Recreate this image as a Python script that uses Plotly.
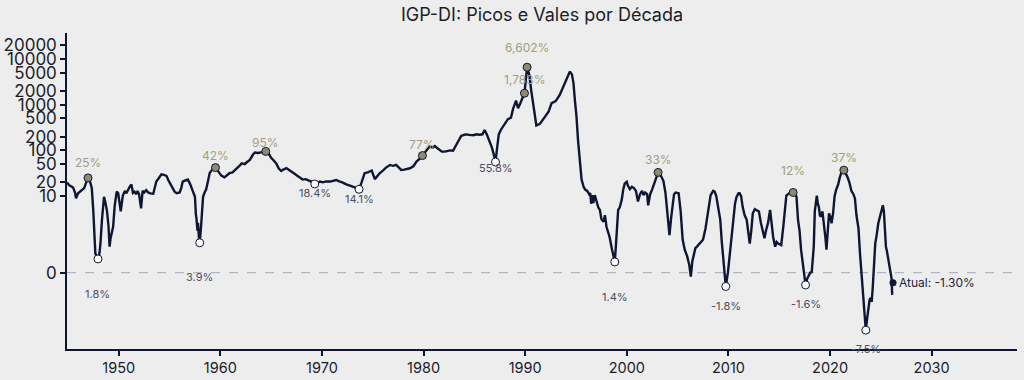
import numpy as np
import plotly.graph_objects as go

# ---------------- data ----------------
years = [1944.92, 1945.1, 1945.3, 1945.5, 1945.7, 1945.8, 1946.0, 1946.2, 1946.4, 1946.6, 1946.8, 1947.0,
         1947.2, 1947.35, 1947.5, 1947.6, 1947.7, 1947.85, 1947.96, 1948.1, 1948.2, 1948.35, 1948.55, 1948.7,
         1948.85, 1949.0, 1949.1, 1949.2, 1949.3, 1949.45, 1949.6, 1949.8, 1949.95, 1950.1, 1950.2, 1950.4,
         1950.6, 1950.75, 1950.9, 1951.1, 1951.25, 1951.4, 1951.55, 1951.7, 1951.85, 1952.0, 1952.2, 1952.35,
         1952.5, 1952.7, 1952.9, 1953.1, 1953.4, 1953.55, 1953.7, 1953.9, 1954.2, 1954.45, 1954.7, 1954.9,
         1955.1, 1955.35, 1955.5, 1955.7, 1956.0, 1956.15, 1956.3, 1956.55, 1956.8, 1957.0, 1957.15, 1957.35,
         1957.5, 1957.6, 1957.65, 1957.75, 1957.8, 1957.9, 1957.97, 1958.1, 1958.2, 1958.3, 1958.45, 1958.6,
         1958.8, 1958.95, 1959.2, 1959.52, 1959.7, 1959.9, 1960.1, 1960.4, 1960.6, 1960.9, 1961.2, 1961.6,
         1961.85, 1962.1, 1962.4, 1962.6, 1962.9, 1963.2, 1963.4, 1963.7, 1964.0, 1964.47, 1964.8, 1965.0,
         1965.25, 1965.5, 1965.75, 1966.0, 1966.2, 1966.5, 1966.8, 1967.0, 1967.3, 1967.5, 1967.8, 1968.1,
         1968.4, 1968.7, 1969.0, 1969.29, 1969.6, 1969.8, 1970.1, 1970.4, 1970.8, 1971.1, 1971.4, 1971.7,
         1972.0, 1972.4, 1972.8, 1973.1, 1973.4, 1973.65, 1973.9, 1974.2, 1974.5, 1974.9, 1975.2, 1975.5,
         1975.7, 1976.0, 1976.3, 1976.7, 1977.0, 1977.3, 1977.6, 1977.8, 1978.1, 1978.4, 1978.65, 1979.0,
         1979.3, 1979.6, 1979.89, 1980.2, 1980.6, 1980.9, 1981.1, 1981.4, 1981.8, 1982.1, 1982.4, 1982.6,
         1982.9, 1983.2, 1983.5, 1983.7, 1984.0, 1984.2, 1984.5, 1984.9, 1985.2, 1985.5, 1985.8, 1986.0,
         1986.2, 1986.4, 1986.7, 1986.9, 1987.08, 1987.25, 1987.4, 1987.6, 1987.8, 1988.0, 1988.3, 1988.6,
         1988.8, 1989.1, 1989.3, 1989.5, 1989.7, 1989.93, 1990.19, 1990.4, 1990.6, 1990.8, 1991.0, 1991.1,
         1991.45, 1991.7, 1991.95, 1992.3, 1992.6, 1993.0, 1993.4, 1993.9, 1994.4, 1994.6, 1994.75, 1994.9,
         1995.05, 1995.2, 1995.4, 1995.55, 1995.75, 1995.9, 1996.1, 1996.3, 1996.4, 1996.5, 1996.6, 1996.7,
         1996.85, 1997.0, 1997.2, 1997.35, 1997.5, 1997.7, 1997.85, 1998.0, 1998.3, 1998.55, 1998.82, 1998.95,
         1999.15, 1999.3, 1999.5, 1999.65, 1999.8, 2000.0, 2000.1, 2000.3, 2000.5, 2000.7, 2000.9, 2001.1,
         2001.3, 2001.5, 2001.65, 2001.8, 2002.0, 2002.1, 2002.3, 2002.5, 2002.75, 2003.08, 2003.35, 2003.6,
         2003.8, 2004.0, 2004.2, 2004.35, 2004.5, 2004.65, 2004.8, 2005.1, 2005.3, 2005.5, 2005.7, 2005.95,
         2006.15, 2006.3, 2006.45, 2006.6, 2006.75, 2006.9, 2007.2, 2007.5, 2007.75, 2008.0, 2008.25, 2008.5,
         2008.65, 2008.8, 2009.0, 2009.2, 2009.35, 2009.5, 2009.74, 2009.95, 2010.1, 2010.3, 2010.45, 2010.65,
         2010.8, 2011.0, 2011.1, 2011.25, 2011.4, 2011.6, 2011.8, 2011.95, 2012.1, 2012.25, 2012.4, 2012.6,
         2012.8, 2013.0, 2013.2, 2013.4, 2013.55, 2013.7, 2013.9, 2014.1, 2014.25, 2014.4, 2014.6, 2014.75,
         2014.9, 2015.2, 2015.4, 2015.55, 2015.7, 2016.0, 2016.37, 2016.6, 2016.7, 2016.85, 2017.0, 2017.15,
         2017.3, 2017.45, 2017.59, 2017.75, 2017.85, 2018.05, 2018.2, 2018.4, 2018.5, 2018.6, 2018.7, 2018.8,
         2018.9, 2019.0, 2019.1, 2019.25, 2019.4, 2019.55, 2019.65, 2019.8, 2019.9, 2020.05, 2020.15, 2020.3,
         2020.45, 2020.6, 2020.8, 2020.95, 2021.1, 2021.36, 2021.5, 2021.7, 2021.9, 2022.1, 2022.3, 2022.45,
         2022.6, 2022.8, 2022.95, 2023.1, 2023.3, 2023.52, 2023.65, 2023.8, 2023.9, 2024.0, 2024.1, 2024.2,
         2024.3, 2024.45, 2024.6, 2024.75, 2024.95, 2025.1, 2025.2, 2025.3, 2025.4, 2025.5, 2025.6, 2025.75,
         2025.95, 2026.05, 2026.12]

inflation = [20.0, 17.5, 16.5, 15.5, 12.0, 9.7, 11.5, 12.5, 13.5, 15.0, 20.0, 25.0,
             20.0, 15.0, 8.0, 5.0, 2.5, 2.0, 1.8, 2.5, 3.8, 6.9, 9.9, 9.1,
             8.0, 6.0, 3.4, 4.5, 5.1, 6.0, 8.7, 12.5, 11.5, 9.0, 8.0, 10.2,
             13.0, 11.5, 13.9, 16.3, 17.9, 11.8, 12.5, 11.0, 13.0, 11.0, 8.4, 13.0,
             12.0, 13.5, 12.0, 11.5, 11.3, 15.0, 20.8, 24.0, 30.0, 29.0, 27.7, 22.0,
             18.0, 13.9, 12.5, 11.6, 12.0, 15.0, 20.8, 22.0, 23.0, 19.0, 15.4, 12.0,
             9.9, 7.5, 7.1, 5.5, 6.5, 4.5, 3.9, 6.0, 8.5, 9.9, 12.0, 13.9,
             22.0, 32.0, 38.0, 42.0, 37.0, 32.0, 28.0, 25.7, 28.0, 31.7, 33.0, 39.0,
             45.0, 52.0, 50.0, 55.0, 62.0, 80.0, 90.0, 88.0, 92.0, 95.0, 82.0, 69.0,
             60.0, 52.0, 40.0, 35.6, 38.0, 41.0, 37.0, 35.0, 31.0, 28.6, 26.0, 23.0,
             23.5, 22.0, 20.5, 18.4, 20.0, 20.8, 20.0, 21.0, 20.8, 21.5, 22.5, 21.0,
             20.0, 18.0, 17.0, 16.0, 15.0, 14.1, 20.0, 31.7, 33.0, 36.0, 23.5, 28.0,
             32.0, 36.0, 42.0, 48.0, 46.0, 48.0, 42.0, 37.4, 38.0, 39.0, 40.6, 45.0,
             57.0, 65.0, 77.0, 95.0, 121.0, 115.0, 125.0, 110.0, 94.0, 94.0, 98.0, 100.0,
             98.0, 132.0, 170.0, 208.0, 220.0, 224.0, 218.0, 215.0, 225.0, 220.0, 225.0, 280.0,
             230.0, 180.0, 120.0, 83.0, 55.8, 120.0, 224.0, 280.0, 332.0, 400.0, 482.0, 520.0,
             800.0, 1230.0, 840.0, 1050.0, 1400.0, 1783.0, 6602.0, 4600.0, 2000.0, 908.0, 500.0, 350.0,
             380.0, 450.0, 520.0, 700.0, 1080.0, 1200.0, 1640.0, 2950.0, 5300.0, 4600.0, 3000.0, 1200.0,
             550.0, 168.0, 55.0, 23.0, 16.0, 13.9, 13.0, 11.0, 11.6, 9.0, 10.5, 9.1,
             10.5, 9.5, 8.5, 8.2, 7.0, 6.65, 7.5, 6.0, 4.7, 3.0, 1.4, 4.0,
             8.2, 8.5, 9.5, 14.0, 19.0, 20.5, 17.0, 14.2, 16.0, 15.0, 13.0, 9.3,
             11.0, 13.0, 10.5, 12.0, 11.0, 8.8, 11.0, 14.0, 20.0, 33.0, 28.0, 21.6,
             12.0, 7.75, 4.9, 7.0, 8.6, 11.0, 12.0, 11.6, 8.0, 4.3, 3.0, 2.1,
             1.0, -0.5, 1.5, 2.5, 3.2, 3.4, 3.8, 4.3, 5.8, 7.75, 10.5, 13.0,
             12.5, 10.2, 8.5, 6.9, 4.0, 2.1, -1.8, 0.0, 2.1, 4.0, 6.45, 9.0,
             9.9, 11.6, 11.6, 10.0, 8.6, 7.5, 6.9, 5.0, 3.8, 5.5, 7.75, 8.3,
             8.2, 8.0, 6.5, 5.1, 4.5, 5.5, 6.5, 8.2, 6.0, 4.7, 3.4, 4.0,
             3.8, 3.6, 6.0, 8.0, 10.2, 11.6, 12.0, 11.0, 9.9, 6.9, 5.5, 3.0,
             1.2, -0.5, -1.6, -0.8, -0.5, 0.0, 0.1, 3.4, 8.0, 9.5, 10.2, 9.0,
             8.6, 7.5, 7.3, 8.0, 6.45, 4.5, 3.0, 6.0, 7.75, 7.2, 6.45, 7.75,
             10.0, 13.7, 17.9, 25.0, 32.0, 37.0, 33.0, 26.7, 20.0, 13.0, 11.0, 9.7,
             7.5, 5.8, 2.5, -0.1, -4.0, -7.5, -6.0, -4.4, -3.5, -3.3, -3.8, -2.0,
             1.0, 3.8, 5.0, 6.45, 7.5, 8.5, 8.8, 8.0, 5.0, 3.4, 2.8, 1.5,
             0.3, -0.7, -2.9]

peak_years = [1946.98, 1959.52, 1964.47, 1979.89, 1989.93, 1990.19, 2003.08, 2016.37, 2021.36]
peak_values = [25, 42, 95, 77, 1783, 6602, 33, 12, 37]
peak_labels = ["25%", "42%", "95%", "77%", "1,783%", "6,602%", "33%", "12%", "37%"]

valley_years = [1947.96, 1957.97, 1969.29, 1973.65, 1987.08, 1998.82, 2009.74, 2017.59, 2023.52]
valley_values = [1.8, 3.9, 18.4, 14.1, 55.8, 1.4, -1.8, -1.6, -7.5]
valley_labels = ["1.8%", "3.9%", "18.4%", "14.1%", "55.8%", "1.4%", "-1.8%", "-1.6%", "-7.5%"]

atual_year = 2026.2
atual_value = -1.30
atual_label = "Atual: -1.30%"

ytick_values = [0, 10, 20, 50, 100, 200, 500, 1000, 2000, 5000, 10000, 20000]
xtick_values = [1950, 1960, 1970, 1980, 1990, 2000, 2010, 2020, 2030]

# label offsets in pixels (style, not data)
peak_dy = [15, 12, 9, 11, 14, 20, 13, 22, 13]
valley_dy = [35, 34, 9, 10, 6, 35, 20, 19, 19]

# ---------------- symlog transform ----------------
LINTHRESH = 10.0
LINSPAN = 1.676  # decades occupied by the linear part


def symlog(v):
    v = np.asarray(v, dtype=float)
    a = np.abs(v)
    out = np.where(a <= LINTHRESH, a / LINTHRESH * LINSPAN,
                   LINSPAN + np.log10(np.maximum(a, 1e-12) / LINTHRESH))
    return np.sign(v) * out


BG = "#ededed"
NAVY = "#0f1633"
PEAK_FILL = "#8d8a70"
PEAK_TXT = "#a39e82"
VALLEY_TXT = "#4d5060"
FONT = "Inter"

fig = go.Figure()

fig.add_trace(go.Scatter(x=years, y=symlog(inflation), mode="lines",
                         line=dict(color=NAVY, width=2.4), hoverinfo="skip", showlegend=False))

fig.add_trace(go.Scatter(x=peak_years, y=symlog(peak_values), mode="markers",
                         marker=dict(size=8, color=PEAK_FILL, line=dict(color=NAVY, width=1)),
                         showlegend=False))
fig.add_trace(go.Scatter(x=valley_years, y=symlog(valley_values), mode="markers",
                         marker=dict(size=8, color="white", line=dict(color=NAVY, width=1)),
                         showlegend=False))
fig.add_trace(go.Scatter(x=[atual_year], y=symlog([atual_value]), mode="markers",
                         marker=dict(size=7, color=NAVY), showlegend=False))

fig.add_hline(y=0, line=dict(color="#a6a9bd", width=1, dash="dash"), layer="below")

for xv, yv, t, dy in zip(peak_years, symlog(peak_values), peak_labels, peak_dy):
    fig.add_annotation(x=xv, y=yv, text=t, showarrow=False, yshift=dy,
                       font=dict(family=FONT, size=12, color=PEAK_TXT))
for xv, yv, t, dy in zip(valley_years, symlog(valley_values), valley_labels, valley_dy):
    fig.add_annotation(x=xv, y=yv, text=t, showarrow=False, yshift=-dy,
                       font=dict(family=FONT, size=11, color=VALLEY_TXT))
fig.add_annotation(x=atual_year, y=float(symlog([atual_value])[0]), text=atual_label, showarrow=False,
                   xanchor="left", xshift=4, font=dict(family=FONT, size=12, color="#23263a"))

fig.update_layout(
    width=1024, height=380,
    paper_bgcolor=BG, plot_bgcolor=BG,
    margin=dict(l=67, r=7, t=33, b=31, autoexpand=False),
    title=dict(text="IGP-DI: Picos e Vales por Década", x=0.5, xref="paper",
               y=1 - 15 / 380, yref="container", yanchor="middle",
               font=dict(family=FONT, size=18, color="#1b1d2b")),
    font=dict(family=FONT, color="#1b1d2b"),
    showlegend=False,
)
fig.update_xaxes(range=[1944.91, 2038.4], tickvals=xtick_values, ticktext=[str(v) for v in xtick_values],
                 showgrid=False, zeroline=False, showline=True, linecolor=NAVY, linewidth=1.5,
                 ticks="outside", ticklen=5, tickwidth=1.5, tickcolor=NAVY, automargin=False,
                 tickfont=dict(family=FONT, size=14.5, color="#1b1d2b"))
fig.update_yaxes(range=[-1.67, 5.245], tickvals=symlog(ytick_values).tolist(),
                 ticktext=[str(v) for v in ytick_values],
                 showgrid=False, zeroline=False, showline=True, linecolor=NAVY, linewidth=1.5,
                 ticks="outside", ticklen=5, tickwidth=1.5, tickcolor=NAVY, automargin=False,
                 tickfont=dict(family=FONT, size=17, color="#1b1d2b"))

fig.write_html("out.html", config={"displayModeBar": False},
               post_script="document.body.style.margin='0px';document.body.style.overflow='hidden';")
